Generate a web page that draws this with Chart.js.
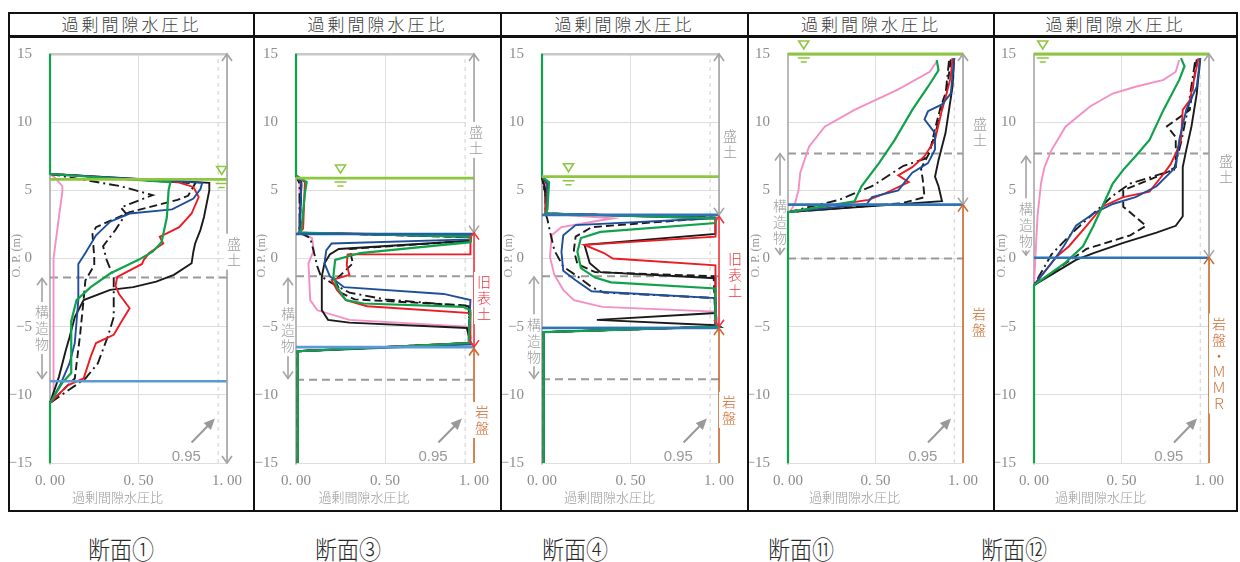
<!DOCTYPE html>
<html lang="ja">
<head>
<meta charset="UTF-8">
<title>過剰間隙水圧比</title>
<script src="https://cdn.jsdelivr.net/npm/chart.js"></script>
<style>
  body { margin: 0; width: 1240px; height: 562px; background: #fff; position: relative; overflow: hidden;
         font-family: "Noto Sans CJK JP", sans-serif; }
  .line { position: absolute; background: #111; }
  .frame { position: absolute; left: 8px; top: 12px; width: 1230px; height: 500px; border: 2px solid #111; box-sizing: border-box; }
  .head { position: absolute; top: 13px; height: 22px; line-height: 22px; text-align: center; font-size: 17px;
          font-weight: 300; letter-spacing: 3px; color: #3c3c3c; }
  .caption { position: absolute; top: 532px; font-size: 22px; font-weight: 300; color: #2a2a2a; transform: scaleY(1.12); white-space: nowrap; }
  canvas { position: absolute; top: 38px; }
</style>
</head>
<body>
<div class="frame"></div>
<div class="line" style="left:8px;top:35px;width:1230px;height:3px"></div>

<script>
// 軸
const xTicks = [0, 0.5, 1];
const yTicks = [15, 10, 5, 0, -5, -10, -15];
const headTitle = '過剰間隙水圧比';
const sectionNames = ['断面①', '断面③', '断面④', '断面⑪', '断面⑫'];

// ---- 断面① ----  [過剰間隙水圧比, O.P.(m)]
const s1Pink = [[0,15],[0,6.2],[0.03,5.9],[0.07,5.3],[0.07,4.9],[0.05,3],[0.03,1],[0.02,0],[0.02,-5],[0.02,-10.3],[0,-10.6],[0,-15]];
const s1Dash = [[0,15],[0,6.2],[0.82,5.5],[0.78,4.6],[0.72,4.3],[0.45,3.4],[0.26,2.3],[0.24,1.8],[0.25,0.1],[0.25,-0.5],[0.2,-1.6],[0.19,-3.0],[0.17,-5.6],[0.14,-8.8],[0,-10.6],[0,-15]];
const s1DashDot = [[0,15],[0,6.2],[0.4,5.3],[0.58,4.65],[0.4,3.75],[0.43,3.3],[0.37,2.1],[0.3,0.9],[0.32,-0.1],[0.36,-1.4],[0.36,-4.3],[0.33,-5.6],[0.27,-7.7],[0.2,-8.8],[0,-10.6],[0,-15]];
const s1Black = [[0,15],[0,6.2],[0.9,5.55],[0.9,5.0],[0.87,3.05],[0.85,2.1],[0.82,1.1],[0.81,0.5],[0.8,-0.35],[0.7,-1.2],[0.6,-1.7],[0.47,-2.1],[0.34,-2.3],[0.19,-3.05],[0.14,-4.3],[0.11,-5.8],[0.09,-6.7],[0.05,-8.7],[0,-10.6],[0,-15]];
const s1Red = [[0,15],[0,6.2],[0.72,5.6],[0.81,5.25],[0.84,4.5],[0.8,3.3],[0.73,2.3],[0.66,1.85],[0.62,1.6],[0.64,1.1],[0.56,0.4],[0.53,-0.1],[0.52,-0.4],[0.38,-1.35],[0.37,-2.0],[0.39,-2.6],[0.45,-3.65],[0.41,-4.5],[0.36,-5.6],[0.26,-6.2],[0.23,-7.2],[0.19,-8.8],[0.1,-9.3],[0,-10.6],[0,-15]];
const s1Blue = [[0,15],[0,6.2],[0.86,5.55],[0.85,5.1],[0.81,4.4],[0.69,3.6],[0.45,3.3],[0.34,2.7],[0.26,1.7],[0.2,0.4],[0.16,-0.4],[0.16,-3.05],[0.14,-6.2],[0.11,-7.7],[0.06,-9.2],[0,-10.6],[0,-15]];
const s1Green = [[0,15],[0,6.2],[0.68,5.6],[0.67,5.0],[0.66,3.0],[0.64,1.8],[0.63,1.2],[0.58,0.5],[0.5,-0.1],[0.34,-1.1],[0.23,-2.1],[0.15,-3.05],[0.12,-4.6],[0.12,-8.4],[0.07,-9.1],[0,-10.6],[0,-15]];
const s1Water = 5.8, s1WaterMark = 0.97;
const s1BlueLevels = [-9.0];
const s1DashLevels = [-1.4];

// ---- 断面③ ----
const s2Pink = [[0,15],[0,6.1],[0.02,5.5],[0.02,2.0],[0.01,1.9],[0.09,1.5],[0.1,0.6],[0.07,-0.35],[0.08,-3.05],[0.12,-3.8],[0.3,-4.5],[0.96,-5.0],[0.98,-6.2],[0.01,-6.8],[0.01,-15]];
const s2Dash = [[0,15],[0,6.1],[0.03,5.4],[0.02,2.0],[0.02,1.9],[0.98,1.55],[0.98,1.3],[0.3,0.7],[0.32,-0.35],[0.22,-1.6],[0.25,-2.5],[0.33,-3.0],[0.97,-3.45],[0.98,-6.2],[0.01,-6.8],[0.01,-15]];
const s2DashDot = [[0,15],[0,6.1],[0.02,5.5],[0.02,2.0],[0.02,1.9],[0.08,1.5],[0.1,0.5],[0.12,-0.6],[0.14,-1.3],[0.2,-1.8],[0.3,-2.5],[0.5,-3.0],[0.97,-3.5],[0.98,-6.2],[0.01,-6.8],[0.01,-15]];
const s2Black = [[0,15],[0,6.1],[0.03,5.6],[0.02,2.0],[0.02,1.9],[0.98,1.6],[0.98,1.3],[0.24,0.7],[0.19,0.3],[0.16,-0.35],[0.145,-1.3],[0.145,-3.8],[0.18,-4.5],[0.3,-4.7],[0.96,-5.1],[0.98,-6.2],[0.01,-6.8],[0.01,-15]];
const s2Red = [[0,15],[0,6.1],[0.05,5.6],[0.04,2.2],[0.02,1.9],[0.98,1.7],[0.98,0.3],[0.29,0.3],[0.285,-0.48],[0.3,-1.2],[0.2,-1.58],[0.23,-2.3],[0.28,-3.05],[0.4,-3.5],[0.98,-4.0],[0.98,-6.2],[0.01,-6.8],[0.01,-15]];
const s2Blue = [[0,15],[0,6.1],[0.03,5.5],[0.02,2.0],[0.02,1.9],[0.98,1.6],[0.98,1.4],[0.2,1.1],[0.17,0.6],[0.16,-0.35],[0.19,-1.3],[0.27,-2.1],[0.83,-2.6],[0.98,-3.05],[0.97,-5.9],[0.99,-6.3],[0.01,-6.8],[0.01,-15]];
const s2Green = [[0,15],[0,6.1],[0.06,5.6],[0.05,4.8],[0.03,2.1],[0.02,1.9],[0.98,1.6],[0.98,1.2],[0.36,0.4],[0.22,-0.1],[0.21,-1.3],[0.23,-2.1],[0.28,-3.05],[0.38,-3.3],[0.94,-3.55],[0.98,-3.8],[0.97,-6.2],[0.01,-6.8],[0.01,-15]];
const s2Water = 5.9, s2WaterMark = 0.25;
const s2BlueLevels = [1.8, -6.5];
const s2DashLevels = [-1.3, -8.9];

// ---- 断面④ ----
const s3Pink = [[0,15],[0,6.0],[0.02,5.3],[0.02,3.5],[0.02,3.3],[0.4,2.95],[0.11,2.3],[0.055,1.7],[0.045,0.1],[0.07,-1.2],[0.12,-2.3],[0.18,-3.05],[0.34,-3.55],[0.98,-3.9],[1.0,-5.0],[0.01,-5.4],[0.01,-15]];
const s3Dash = [[0,15],[0,6.0],[0.03,4.0],[0.02,3.3],[0.98,3.0],[0.28,2.3],[0.19,1.6],[0.18,0.6],[0.2,-0.4],[0.3,-1.0],[0.97,-1.3],[0.98,-4.9],[1.0,-5.0],[0.01,-5.4],[0.01,-15]];
const s3DashDot = [[0,15],[0,6.0],[0.02,4.5],[0.02,3.3],[0.03,2.9],[0.05,1.7],[0.07,0.6],[0.12,-0.6],[0.2,-1.3],[0.28,-2.1],[0.35,-2.5],[0.98,-2.9],[0.98,-4.9],[1.0,-5.0],[0.01,-5.4],[0.01,-15]];
const s3Black = [[0,15],[0,6.0],[0.02,5.0],[0.02,3.5],[0.02,3.3],[0.98,3.0],[0.98,1.8],[0.24,1.0],[0.27,-0.35],[0.33,-1.0],[0.98,-1.45],[0.98,-4.0],[0.31,-4.5],[0.98,-4.9],[1.0,-5.0],[0.01,-5.4],[0.01,-15]];
const s3Red = [[0,15],[0,6.0],[0.03,5.4],[0.02,3.5],[0.02,3.3],[0.98,2.95],[0.98,1.6],[0.24,1.0],[0.35,0.4],[0.4,0.0],[0.98,-0.5],[0.98,-4.8],[1.0,-5.0],[0.01,-5.4],[0.01,-15]];
const s3Blue = [[0,15],[0,6.0],[0.03,5.5],[0.03,3.6],[0.02,3.3],[0.98,2.95],[0.19,2.45],[0.12,1.7],[0.11,0.5],[0.12,-0.9],[0.19,-1.6],[0.28,-2.4],[0.98,-2.9],[0.98,-4.9],[1.0,-5.0],[0.01,-5.4],[0.01,-15]];
const s3Green = [[0,15],[0,6.0],[0.04,5.6],[0.03,3.6],[0.02,3.3],[0.98,2.95],[0.98,2.6],[0.33,1.95],[0.22,1.5],[0.2,0.5],[0.22,-0.7],[0.3,-1.4],[0.39,-1.75],[0.98,-2.2],[0.98,-4.7],[1.0,-5.0],[0.01,-5.4],[0.01,-15]];
const s3Water = 6.0, s3WaterMark = 0.15;
const s3BlueLevels = [3.2, -5.1];
const s3DashLevels = [-1.3, -8.85];

// ---- 断面⑪ ----
const s4Pink = [[0.85,14.45],[0.81,13.7],[0.63,12.4],[0.38,10.9],[0.21,9.67],[0.12,8.2],[0.07,6.3],[0.06,5.0],[0.04,4.05],[0.01,3.4],[0,3.4],[0,-15]];
const s4Dash = [[0.93,14.6],[0.91,12.5],[0.87,11.0],[0.84,9.5],[0.81,7.8],[0.76,6.6],[0.77,5.8],[0.78,4.5],[0.65,4.05],[0,3.4],[0,-15]];
const s4DashDot = [[0.92,14.5],[0.9,12.0],[0.86,10.0],[0.82,8.3],[0.78,7.3],[0.66,6.8],[0.48,5.3],[0.29,4.3],[0,3.4],[0,-15]];
const s4Black = [[0.95,14.7],[0.94,12.6],[0.92,10.9],[0.9,9.2],[0.86,7.2],[0.84,6.0],[0.86,5.3],[0.88,4.2],[0,3.4],[0,-15]];
const s4Red = [[0.94,14.7],[0.93,13.3],[0.9,11.8],[0.88,10.9],[0.84,8.7],[0.78,7.5],[0.71,6.7],[0.63,6.1],[0.69,5.6],[0.55,4.75],[0.46,4.3],[0,3.4],[0,-15]];
const s4Blue = [[0.95,14.7],[0.93,12.1],[0.88,11.3],[0.8,10.8],[0.78,10.2],[0.84,9.2],[0.84,8.0],[0.8,7.0],[0.71,6.3],[0.63,5.0],[0.48,4.5],[0.45,4.0],[0,3.4],[0,-15]];
const s4Green = [[0.85,14.55],[0.86,13.8],[0.8,12.6],[0.71,10.9],[0.61,8.7],[0.52,7.0],[0.42,5.3],[0.38,4.2],[0,3.4],[0,-15]];
const s4Water = 15, s4WaterMark = 0.09;
const s4BlueLevels = [3.95];
const s4DashLevels = [7.7, 0];

// ---- 断面⑫ ----
const s5Pink = [[0.83,14.56],[0.81,13.7],[0.74,13.1],[0.58,12.6],[0.45,12.1],[0.32,11.15],[0.18,9.67],[0.1,7.95],[0.06,6.7],[0.04,5.5],[0.02,3.1],[0.01,0.6],[0,-1.95],[0,-15]];
const s5Dash = [[0.93,14.6],[0.89,10.9],[0.76,9.7],[0.81,8.9],[0.81,6.7],[0.74,6.2],[0.51,5.0],[0.51,3.8],[0.64,2.4],[0.55,1.7],[0.3,0.7],[0,-1.95],[0,-15]];
const s5DashDot = [[0.92,14.4],[0.88,11.0],[0.84,8.5],[0.8,6.5],[0.55,5.5],[0.45,4.6],[0.22,1.9],[0.1,0.3],[0,-1.95],[0,-15]];
const s5Black = [[0.95,14.7],[0.93,12.1],[0.9,9.7],[0.87,7.95],[0.85,6.7],[0.85,3.1],[0.81,2.4],[0.7,1.9],[0.51,1.15],[0.34,0.4],[0.24,-0.1],[0,-1.95],[0,-15]];
const s5Red = [[0.94,14.7],[0.89,11.6],[0.85,10.9],[0.84,8.7],[0.81,7.7],[0.78,6.9],[0.74,6.2],[0.66,4.9],[0.51,4.5],[0.39,3.8],[0.3,2.4],[0.2,0.9],[0.13,0.15],[0,-1.95],[0,-15]];
const s5Blue = [[0.95,14.7],[0.93,12.6],[0.87,10.9],[0.83,8.7],[0.81,6.7],[0.7,5.3],[0.58,4.5],[0.45,4.0],[0.34,3.3],[0.24,2.4],[0.17,0.9],[0.12,0.0],[0,-1.95],[0,-15]];
const s5Green = [[0.84,14.7],[0.86,14.1],[0.83,13.1],[0.74,10.9],[0.66,8.7],[0.58,7.5],[0.51,6.5],[0.45,5.5],[0.39,3.8],[0.34,2.4],[0.28,0.9],[0.18,-0.3],[0,-1.95],[0,-15]];
const s5Water = 15, s5WaterMark = 0.05;
const s5BlueLevels = [0.05];
const s5DashLevels = [7.7];

// 区間の矢印: [上端, 下端, ラベル位置]
const s1Spans = { fill: [15, -15, 0.5], struct: [-1.45, -8.8, -5.1] };
const s2Spans = { fill: [15, 1.9, 8.7], old: [1.9, -6.5, -2.9], rock: [-6.6, -15, -11.85], struct: [-1.45, -8.8, -5.25] };
const s3Spans = { fill: [15, 3.2, 8.4], old: [3.1, -5.0, -1.2], rock: [-5.1, -15, -11.1], struct: [-1.35, -8.8, -6.0] };
const s4Spans = { fill: [15, 3.95, 9.3], rock: [3.95, -15, -4.65], struct: [7.7, 0.3, 2.7] };
const s5Spans = { fill: [15, 0.1, 6.6], rock: [0.1, -15, -7.7], struct: [7.5, 0.25, 2.5] };

// 配置（ピクセル）と色
const cells = [[10, 253], [255, 500], [502, 747], [749, 993], [995, 1236]];
const yAxisW = [40, 41, 40, 39, 39];
const padR = [26, 26, 28, 30, 27];
const captionX = [119, 346, 573, 799, 1012];
const labelDx = [
  { fill: 7 },
  { fill: 2, old: 10, rock: 8 },
  { fill: 11, old: 16, rock: 10 },
  { fill: 17, rock: 16 },
  { fill: 17, rock: 10 }
];
const rockText = ['岩盤', '岩盤', '岩盤', '岩盤', '岩盤・ＭＭＲ'];
const blueLevelColors = [['#5b9bd5'], ['#1f5fa8', '#5b9bd5'], ['#2e75b6', '#2e75b6'], ['#2e75b6'], ['#2e75b6']];

const C = { black: '#1a1a1a', red: '#ed1c24', blue: '#1f4e9c', green: '#10a24a', pink: '#f48fc3',
            water: '#8dc63f', gray: '#a3a3a3', orange: '#cd6a2e', oldRed: '#f0343c' };

const sections = [
  { curves: [s1Pink, s1Dash, s1DashDot, s1Black, s1Red, s1Blue, s1Green], water: s1Water, mark: s1WaterMark, blue: s1BlueLevels, dash: s1DashLevels, spans: s1Spans },
  { curves: [s2Pink, s2Dash, s2DashDot, s2Black, s2Red, s2Blue, s2Green], water: s2Water, mark: s2WaterMark, blue: s2BlueLevels, dash: s2DashLevels, spans: s2Spans },
  { curves: [s3Pink, s3Dash, s3DashDot, s3Black, s3Red, s3Blue, s3Green], water: s3Water, mark: s3WaterMark, blue: s3BlueLevels, dash: s3DashLevels, spans: s3Spans },
  { curves: [s4Pink, s4Dash, s4DashDot, s4Black, s4Red, s4Blue, s4Green], water: s4Water, mark: s4WaterMark, blue: s4BlueLevels, dash: s4DashLevels, spans: s4Spans },
  { curves: [s5Pink, s5Dash, s5DashDot, s5Black, s5Red, s5Blue, s5Green], water: s5Water, mark: s5WaterMark, blue: s5BlueLevels, dash: s5DashLevels, spans: s5Spans }
];
const curveStyles = [
  { color: C.pink, dash: [] },
  { color: C.black, dash: [8, 4] },
  { color: C.black, dash: [10, 4, 2, 4] },
  { color: C.black, dash: [] },
  { color: C.red, dash: [] },
  { color: C.blue, dash: [] },
  { color: C.green, dash: [] }
];

const toXY = arr => arr.map(([x, y]) => ({ x, y }));
const hLine = y => [{ x: 0, y }, { x: 1, y }];

function head(ctx, x, y, dir) { // dir -1: 上向き, 1: 下向き
  ctx.beginPath();
  ctx.moveTo(x - 5, y - dir * 7);
  ctx.lineTo(x, y);
  ctx.lineTo(x + 5, y - dir * 7);
  ctx.stroke();
}
function vArrow(ctx, x, y1, y2, color, bothHeads) {
  ctx.strokeStyle = color; ctx.lineWidth = 1.6; ctx.setLineDash([]);
  ctx.beginPath(); ctx.moveTo(x, y1); ctx.lineTo(x, y2); ctx.stroke();
  head(ctx, x, y1, -1);
  if (bothHeads) head(ctx, x, y2, 1);
}
function vLabel(ctx, text, cx, cy, color, half) {
  const chars = [...text], lh = 16, h = chars.length * lh;
  ctx.fillStyle = '#fff';
  ctx.fillRect(cx - half, cy - h / 2 - 2, half * 2, h + 4);
  ctx.fillStyle = color;
  ctx.font = '300 14px "Noto Sans CJK JP"';
  ctx.textAlign = 'center'; ctx.textBaseline = 'middle';
  chars.forEach((ch, i) => ctx.fillText(ch, cx, cy - h / 2 + lh * (i + 0.5)));
}

const decor = {
  id: 'decor',
  afterDatasetsDraw(chart, args, o) {
    const { ctx, chartArea: a, scales: { x, y } } = chart;
    const X = v => x.getPixelForValue(v), Y = v => y.getPixelForValue(v);
    const s = o.sec, i = o.idx;
    ctx.save();
    const xr = X(1);
    // 盛土
    vArrow(ctx, xr, Y(s.spans.fill[0]), Y(s.spans.fill[1]), C.gray, true);
    vLabel(ctx, '盛土', xr + labelDx[i].fill, Y(s.spans.fill[2]), '#9a9a9a', 10);
    // 旧表土
    if (s.spans.old) {
      vArrow(ctx, xr, Y(s.spans.old[0]), Y(s.spans.old[1]), C.oldRed, true);
      vLabel(ctx, '旧表土', xr + labelDx[i].old, Y(s.spans.old[2]), C.oldRed, 10);
    }
    // 岩盤
    if (s.spans.rock) {
      vArrow(ctx, xr, Y(s.spans.rock[0]), Y(s.spans.rock[1]), C.orange, false);
      vLabel(ctx, rockText[i], xr + labelDx[i].rock, Y(s.spans.rock[2]), C.orange, 10);
    }
    // 構造物
    const xs = a.left - 8;
    vArrow(ctx, xs, Y(s.spans.struct[0]), Y(s.spans.struct[1]), C.gray, true);
    vLabel(ctx, '構造物', xs, Y(s.spans.struct[2]), '#9a9a9a', 7);
    // 水位記号
    const wx = X(s.mark), wy = Y(s.water);
    ctx.strokeStyle = C.water; ctx.lineWidth = 1.6;
    ctx.beginPath(); ctx.moveTo(wx - 5, wy - 13); ctx.lineTo(wx + 5, wy - 13); ctx.lineTo(wx, wy - 5); ctx.closePath(); ctx.stroke();
    ctx.lineWidth = 1.5;
    ctx.beginPath(); ctx.moveTo(wx - 6, wy + 4); ctx.lineTo(wx + 6, wy + 4); ctx.moveTo(wx - 3, wy + 8); ctx.lineTo(wx + 3, wy + 8); ctx.stroke();
    // 0.95 の注記
    const ax1 = X(0.8), ay1 = Y(-13.5), ax2 = X(0.92), ay2 = Y(-11.9);
    ctx.strokeStyle = '#999'; ctx.fillStyle = '#999'; ctx.lineWidth = 2;
    ctx.beginPath(); ctx.moveTo(ax1, ay1); ctx.lineTo(ax2, ay2); ctx.stroke();
    const ang = Math.atan2(ay2 - ay1, ax2 - ax1);
    ctx.beginPath();
    ctx.moveTo(ax2 + 3 * Math.cos(ang), ay2 + 3 * Math.sin(ang));
    ctx.lineTo(ax2 - 8 * Math.cos(ang) + 5 * Math.sin(ang), ay2 - 8 * Math.sin(ang) - 5 * Math.cos(ang));
    ctx.lineTo(ax2 - 8 * Math.cos(ang) - 5 * Math.sin(ang), ay2 - 8 * Math.sin(ang) + 5 * Math.cos(ang));
    ctx.closePath(); ctx.fill();
    ctx.font = '15px "Liberation Sans"'; ctx.textAlign = 'center'; ctx.textBaseline = 'middle';
    ctx.fillText('0.95', X(0.77), Y(-14.55));
    // 軸タイトル
    ctx.fillStyle = '#999';
    ctx.font = '300 13px "Noto Sans CJK JP"';
    ctx.fillText(headTitle, (a.left + a.right) / 2 - 21, a.bottom + 34);
    ctx.translate(y.left + 7, Y(0.2));
    ctx.rotate(-Math.PI / 2);
    ctx.font = '12px "Liberation Serif"';
    ctx.fillText('O. P. (m)', 0, 0);
    ctx.restore();
  }
};

sections.forEach((sec, i) => {
  const [left, right] = cells[i];
  // 見出しとキャプション
  const hd = document.createElement('div');
  hd.className = 'head'; hd.textContent = headTitle;
  hd.style.left = left + 'px'; hd.style.width = (right - left) + 'px';
  document.body.appendChild(hd);
  if (i > 0) {
    const ln = document.createElement('div');
    ln.className = 'line';
    ln.style.cssText = `left:${left - 2}px;top:12px;width:2px;height:500px`;
    document.body.appendChild(ln);
  }
  const cap = document.createElement('div');
  cap.className = 'caption'; cap.textContent = sectionNames[i];
  cap.style.left = (captionX[i] - 31) + 'px';
  document.body.appendChild(cap);

  const cv = document.createElement('canvas');
  cv.width = right - left; cv.height = 472;
  cv.style.left = left + 'px';
  cv.style.width = (right - left) + 'px'; cv.style.height = '472px';
  document.body.appendChild(cv);

  const datasets = [];
  datasets.push({ data: [{ x: 0.95, y: -15 }, { x: 0.95, y: 15 }], borderColor: '#cfcfcf', borderWidth: 1, borderDash: [4, 4], order: 20 });
  sec.dash.forEach(lv => datasets.push({ data: hLine(lv), borderColor: '#9a9a9a', borderWidth: 2, borderDash: [8, 5], order: 15 }));
  sec.curves.forEach((c, k) => datasets.push({
    data: toXY(c), borderColor: curveStyles[k].color, borderDash: curveStyles[k].dash,
    borderWidth: k === 6 ? 2.2 : 1.9, order: 12 - k
  }));
  sec.blue.forEach((lv, k) => datasets.push({ data: hLine(lv), borderColor: blueLevelColors[i][k], borderWidth: 2.6, order: 2 }));
  datasets.push({ data: hLine(sec.water), borderColor: C.water, borderWidth: 2.8, order: 1 });
  datasets.forEach(d => { d.showLine = true; d.pointRadius = 0; d.fill = false; d.tension = 0; d.clip = false; });

  new Chart(cv, {
    type: 'scatter',
    data: { datasets },
    options: {
      responsive: false, animation: false, events: [],
      layout: { padding: { left: 0, right: padR[i], top: 16, bottom: 0 } },
      plugins: { legend: { display: false }, tooltip: { enabled: false }, decor: { sec, idx: i } },
      scales: {
        x: {
          type: 'linear', min: 0, max: 1,
          afterBuildTicks: s => { s.ticks = xTicks.map(v => ({ value: v })); },
          afterFit: s => { s.height = 47; s.paddingLeft = 0; s.paddingRight = 0; },
          grid: { color: '#dedede', lineWidth: 1, drawTicks: false },
          border: { display: false },
          ticks: { padding: 9, color: '#8c8c8c', font: { family: 'Liberation Serif', size: 15 },
                   callback: v => v.toFixed(2).replace('.', '. ') }
        },
        y: {
          type: 'linear', min: -15, max: 15,
          afterBuildTicks: s => { s.ticks = yTicks.map(v => ({ value: v })); },
          afterFit: s => { s.width = yAxisW[i]; s.paddingTop = 0; s.paddingBottom = 0; },
          grid: { color: c => c.tick && c.tick.value === 15 ? '#c8c8c8' : '#dedede',
                  lineWidth: c => c.tick && c.tick.value === 15 ? 2.5 : 1, drawTicks: false },
          border: { display: true, color: '#b8b8b8', width: 2 },
          ticks: { padding: 18, color: '#8c8c8c', font: { family: 'Liberation Serif', size: 15 },
                   callback: v => v < 0 ? '−' + Math.abs(v) : String(v) }
        }
      }
    },
    plugins: [decor]
  });
});
</script>
</body>
</html>
